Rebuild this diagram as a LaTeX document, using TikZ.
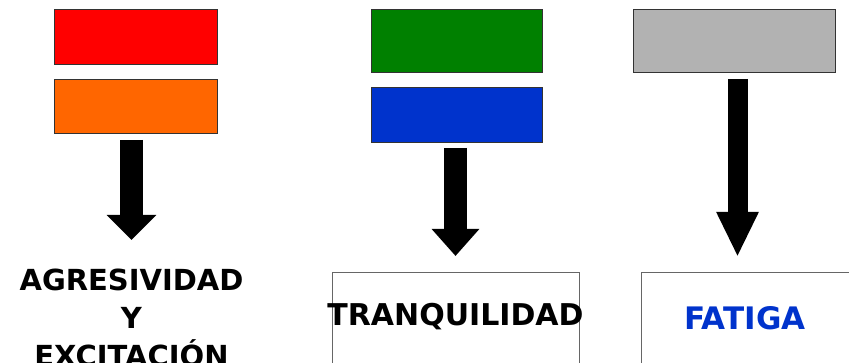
\documentclass[tikz,border=0pt]{standalone}
\usepackage{fontspec}
\setmainfont{DejaVu Sans}
\usetikzlibrary{arrows.meta}
\definecolor{rojo}{HTML}{FF0000}
\definecolor{naranja}{HTML}{FF6600}
\definecolor{verde}{HTML}{008000}
\definecolor{azul}{HTML}{0033CC}
\definecolor{gris}{HTML}{B2B2B2}

\begin{document}
\begin{tikzpicture}[x=1pt, y=-1pt,
                    every node/.style={inner sep=0pt, outer sep=0pt},
                    colorbox/.style n args={3}{draw=black!80, line width=0.8pt, fill=#1, minimum width=#2, minimum height=#3, anchor=north west},
                    outbox/.style={draw=black!60, line width=0.8pt, minimum width=#1, minimum height=140pt, anchor=north west},
                    label/.style={font=\fontsize{#1}{38pt}\selectfont\bfseries, align=center},
                    bigarrow/.style n args={3}{line width=#1, -{Triangle[width=#2, length=#3]}}]
    \useasboundingbox (0,0) rectangle (849,363);
    % Left column
    \node[colorbox={rojo}{163pt}{55pt}] (red) at (54,9) {};
    \node[colorbox={naranja}{163pt}{54pt}] (orange) at (54,79) {};
    \node[label=29pt, anchor=north] (agres) at (131.5,269) {AGRESIVIDAD\\Y\\EXCITACIÓN};
    \draw[bigarrow={23pt}{48pt}{25pt}, shorten <=7pt, shorten >=29pt] (agres.north |- orange.south) -- (agres.north);
    % Middle column
    \node[colorbox={verde}{171pt}{63pt}] (green) at (371,9) {};
    \node[colorbox={azul}{171pt}{55pt}] (blue) at (371,87) {};
    \node[outbox=247pt] (tbox) at (332,272) {};
    \node[label=30pt, anchor=base] (tranq) at (455.5,326) {TRANQUILIDAD};
    \draw[bigarrow={23pt}{46pt}{27pt}, shorten <=6pt, shorten >=16pt] (tbox.north |- blue.south) -- (tbox.north);
    % Right column
    \node[colorbox={gris}{202pt}{63pt}] (grey) at (633,9) {};
    \node[outbox=240pt] (fbox) at (641,272) {};
    \node[label=31pt, anchor=base, text=azul] (fatiga) at (745,330) {FATIGA};
    \draw[bigarrow={20pt}{39pt}{45pt}, shorten <=7pt, shorten >=15pt] ([xshift=3.5pt]grey.south) -- ([xshift=3.5pt]grey.south |- fbox.north);
\end{tikzpicture}
\end{document}
